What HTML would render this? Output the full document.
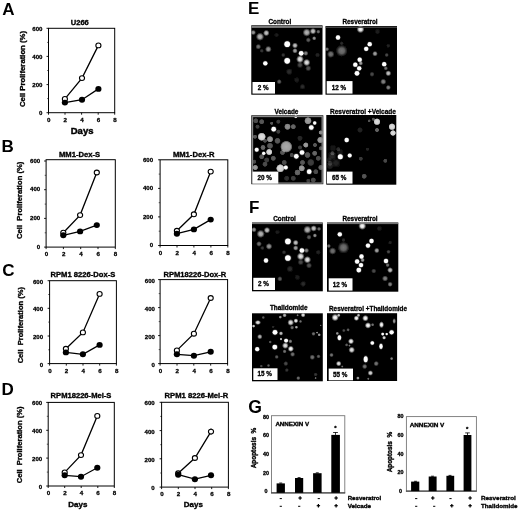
<!DOCTYPE html>
<html lang="en"><head><meta charset="utf-8"><title>Figure</title>
<style>
html,body{margin:0;padding:0;background:#fff;}
body{width:520px;height:510px;overflow:hidden;}
svg{display:block;font-family:"Liberation Sans",sans-serif;}
text{white-space:pre;}
</style></head><body>
<svg width="520" height="510" viewBox="0 0 520 510">
<defs>
<radialGradient id="rg"><stop offset="0" stop-color="#fff" stop-opacity="1"/><stop offset="0.45" stop-color="#fff" stop-opacity="0.85"/><stop offset="0.75" stop-color="#fff" stop-opacity="0.35"/><stop offset="1" stop-color="#fff" stop-opacity="0"/></radialGradient>
<radialGradient id="rgd"><stop offset="0" stop-color="#fff" stop-opacity="1"/><stop offset="0.7" stop-color="#fff" stop-opacity="0.92"/><stop offset="0.9" stop-color="#fff" stop-opacity="0.55"/><stop offset="1" stop-color="#fff" stop-opacity="0"/></radialGradient>
<filter id="b3" x="-150%" y="-150%" width="400%" height="400%"><feGaussianBlur stdDeviation="4"/></filter>
<filter id="b1" x="-50%" y="-50%" width="200%" height="200%"><feGaussianBlur stdDeviation="0.45"/></filter>
<filter id="bm" x="-50%" y="-50%" width="200%" height="200%"><feGaussianBlur stdDeviation="0.65"/></filter>
<filter id="b2" x="-50%" y="-50%" width="200%" height="200%"><feGaussianBlur stdDeviation="0.9"/></filter>
<filter id="soft" x="-5%" y="-5%" width="110%" height="110%"><feGaussianBlur stdDeviation="0.42"/></filter>
</defs>
<rect x="0" y="0" width="520" height="510" fill="#fff"/>
<g filter="url(#soft)">

<text x="2.2" y="14.6" font-size="17" font-weight="bold" text-anchor="start">A</text>
<text x="1.6" y="151.6" font-size="17" font-weight="bold" text-anchor="start">B</text>
<text x="2.2" y="275.5" font-size="17" font-weight="bold" text-anchor="start">C</text>
<text x="1.6" y="395.2" font-size="17" font-weight="bold" text-anchor="start">D</text>
<text x="248.0" y="14.4" font-size="17" font-weight="bold" text-anchor="start">E</text>
<text x="249.0" y="212.8" font-size="17" font-weight="bold" text-anchor="start">F</text>
<text x="248.2" y="412.6" font-size="17.6" font-weight="bold" text-anchor="start">G</text>
<rect x="48.5" y="28.3" width="66.2" height="84.4" fill="#fff" stroke="#000" stroke-width="1"/>
<line x1="46.5" y1="112.7" x2="48.5" y2="112.7" stroke="#000" stroke-width="0.9"/>
<line x1="47.1" y1="98.6" x2="48.5" y2="98.6" stroke="#000" stroke-width="0.6"/>
<line x1="46.5" y1="84.6" x2="48.5" y2="84.6" stroke="#000" stroke-width="0.9"/>
<line x1="47.1" y1="70.5" x2="48.5" y2="70.5" stroke="#000" stroke-width="0.6"/>
<line x1="46.5" y1="56.4" x2="48.5" y2="56.4" stroke="#000" stroke-width="0.9"/>
<line x1="47.1" y1="42.4" x2="48.5" y2="42.4" stroke="#000" stroke-width="0.6"/>
<line x1="46.5" y1="28.3" x2="48.5" y2="28.3" stroke="#000" stroke-width="0.9"/>
<line x1="48.5" y1="112.7" x2="48.5" y2="114.7" stroke="#000" stroke-width="0.9"/>
<line x1="65.0" y1="112.7" x2="65.0" y2="114.7" stroke="#000" stroke-width="0.9"/>
<line x1="81.6" y1="112.7" x2="81.6" y2="114.7" stroke="#000" stroke-width="0.9"/>
<line x1="98.2" y1="112.7" x2="98.2" y2="114.7" stroke="#000" stroke-width="0.9"/>
<line x1="114.7" y1="112.7" x2="114.7" y2="114.7" stroke="#000" stroke-width="0.9"/>
<text x="42.5" y="115.3" font-size="6.1" text-anchor="end" font-weight="bold" stroke="#000" stroke-width="0.27" >0</text>
<text x="42.5" y="87.2" font-size="6.1" text-anchor="end" font-weight="bold" stroke="#000" stroke-width="0.27" >200</text>
<text x="42.5" y="59.0" font-size="6.1" text-anchor="end" font-weight="bold" stroke="#000" stroke-width="0.27" >400</text>
<text x="42.5" y="30.9" font-size="6.1" text-anchor="end" font-weight="bold" stroke="#000" stroke-width="0.27" >600</text>
<text x="48.8" y="121.9" font-size="6.2" text-anchor="middle" font-weight="bold" stroke="#000" stroke-width="0.28" >0</text>
<text x="65.3" y="121.9" font-size="6.2" text-anchor="middle" font-weight="bold" stroke="#000" stroke-width="0.28" >2</text>
<text x="81.9" y="121.9" font-size="6.2" text-anchor="middle" font-weight="bold" stroke="#000" stroke-width="0.28" >4</text>
<text x="98.5" y="121.9" font-size="6.2" text-anchor="middle" font-weight="bold" stroke="#000" stroke-width="0.28" >6</text>
<text x="115.0" y="121.9" font-size="6.2" text-anchor="middle" font-weight="bold" stroke="#000" stroke-width="0.28" >8</text>
<text x="79.8" y="24.8" font-size="7.5" text-anchor="middle" font-weight="bold" textLength="18.0" lengthAdjust="spacingAndGlyphs" stroke="#000" stroke-width="0.34" >U266</text>
<polyline points="64.9,98.9 82.0,78.1 98.4,45.4" fill="none" stroke="#000" stroke-width="1.3"/>
<ellipse cx="64.9" cy="98.9" rx="2.55" ry="2.4" fill="#fff" stroke="#000" stroke-width="1.1"/>
<ellipse cx="82.0" cy="78.1" rx="2.55" ry="2.4" fill="#fff" stroke="#000" stroke-width="1.1"/>
<ellipse cx="98.4" cy="45.4" rx="2.55" ry="2.4" fill="#fff" stroke="#000" stroke-width="1.1"/>
<polyline points="64.9,102.6 82.0,99.7 98.4,88.9" fill="none" stroke="#000" stroke-width="1.3"/>
<ellipse cx="64.9" cy="102.6" rx="3.1" ry="2.95" fill="#000"/>
<ellipse cx="82.0" cy="99.7" rx="3.1" ry="2.95" fill="#000"/>
<ellipse cx="98.4" cy="88.9" rx="3.1" ry="2.95" fill="#000"/>
<text x="25.4" y="69.0" font-size="7.5" text-anchor="middle" font-weight="bold" textLength="76.0" lengthAdjust="spacingAndGlyphs" transform="rotate(-90 25.4 69.0)" stroke="#000" stroke-width="0.34" >Cell Proliferation (%)</text>
<text x="82.1" y="134.4" font-size="9.5" text-anchor="middle" font-weight="bold" stroke="#000" stroke-width="0.43" >Days</text>
<rect x="46.1" y="159.7" width="69.2" height="87.4" fill="#fff" stroke="#000" stroke-width="1"/>
<line x1="44.1" y1="247.1" x2="46.1" y2="247.1" stroke="#000" stroke-width="0.9"/>
<line x1="44.7" y1="232.8" x2="46.1" y2="232.8" stroke="#000" stroke-width="0.6"/>
<line x1="44.1" y1="218.4" x2="46.1" y2="218.4" stroke="#000" stroke-width="0.9"/>
<line x1="44.7" y1="204.1" x2="46.1" y2="204.1" stroke="#000" stroke-width="0.6"/>
<line x1="44.1" y1="189.7" x2="46.1" y2="189.7" stroke="#000" stroke-width="0.9"/>
<line x1="44.7" y1="175.3" x2="46.1" y2="175.3" stroke="#000" stroke-width="0.6"/>
<line x1="44.1" y1="161.0" x2="46.1" y2="161.0" stroke="#000" stroke-width="0.9"/>
<line x1="46.1" y1="247.1" x2="46.1" y2="249.1" stroke="#000" stroke-width="0.9"/>
<line x1="63.4" y1="247.1" x2="63.4" y2="249.1" stroke="#000" stroke-width="0.9"/>
<line x1="80.7" y1="247.1" x2="80.7" y2="249.1" stroke="#000" stroke-width="0.9"/>
<line x1="98.0" y1="247.1" x2="98.0" y2="249.1" stroke="#000" stroke-width="0.9"/>
<line x1="115.3" y1="247.1" x2="115.3" y2="249.1" stroke="#000" stroke-width="0.9"/>
<text x="40.2" y="248.8" font-size="6.1" text-anchor="end" font-weight="bold" stroke="#000" stroke-width="0.27" >0</text>
<text x="40.2" y="220.1" font-size="6.1" text-anchor="end" font-weight="bold" stroke="#000" stroke-width="0.27" >200</text>
<text x="40.2" y="191.4" font-size="6.1" text-anchor="end" font-weight="bold" stroke="#000" stroke-width="0.27" >400</text>
<text x="40.2" y="162.7" font-size="6.1" text-anchor="end" font-weight="bold" stroke="#000" stroke-width="0.27" >600</text>
<text x="46.4" y="256.3" font-size="6.2" text-anchor="middle" font-weight="bold" stroke="#000" stroke-width="0.28" >0</text>
<text x="63.7" y="256.3" font-size="6.2" text-anchor="middle" font-weight="bold" stroke="#000" stroke-width="0.28" >2</text>
<text x="81.0" y="256.3" font-size="6.2" text-anchor="middle" font-weight="bold" stroke="#000" stroke-width="0.28" >4</text>
<text x="98.3" y="256.3" font-size="6.2" text-anchor="middle" font-weight="bold" stroke="#000" stroke-width="0.28" >6</text>
<text x="115.6" y="256.3" font-size="6.2" text-anchor="middle" font-weight="bold" stroke="#000" stroke-width="0.28" >8</text>
<text x="79.6" y="156.8" font-size="7.5" text-anchor="middle" font-weight="bold" textLength="41.2" lengthAdjust="spacingAndGlyphs" stroke="#000" stroke-width="0.34" >MM1-Dex-S</text>
<polyline points="63.3,232.7 80.1,215.1 96.8,172.5" fill="none" stroke="#000" stroke-width="1.3"/>
<ellipse cx="63.3" cy="232.7" rx="2.55" ry="2.4" fill="#fff" stroke="#000" stroke-width="1.1"/>
<ellipse cx="80.1" cy="215.1" rx="2.55" ry="2.4" fill="#fff" stroke="#000" stroke-width="1.1"/>
<ellipse cx="96.8" cy="172.5" rx="2.55" ry="2.4" fill="#fff" stroke="#000" stroke-width="1.1"/>
<polyline points="63.3,235.3 80.1,231.4 96.8,225.1" fill="none" stroke="#000" stroke-width="1.3"/>
<ellipse cx="63.3" cy="235.3" rx="3.1" ry="2.95" fill="#000"/>
<ellipse cx="80.1" cy="231.4" rx="3.1" ry="2.95" fill="#000"/>
<ellipse cx="96.8" cy="225.1" rx="3.1" ry="2.95" fill="#000"/>
<text x="22.3" y="200.3" font-size="7.5" text-anchor="middle" font-weight="bold" textLength="77.2" lengthAdjust="spacingAndGlyphs" transform="rotate(-90 22.3 200.3)" stroke="#000" stroke-width="0.34" >Cell  Proliferation (%)</text>
<rect x="160.1" y="159.8" width="67.7" height="85.7" fill="#fff" stroke="#000" stroke-width="1"/>
<line x1="158.1" y1="245.5" x2="160.1" y2="245.5" stroke="#000" stroke-width="0.9"/>
<line x1="158.7" y1="231.2" x2="160.1" y2="231.2" stroke="#000" stroke-width="0.6"/>
<line x1="158.1" y1="216.9" x2="160.1" y2="216.9" stroke="#000" stroke-width="0.9"/>
<line x1="158.7" y1="202.7" x2="160.1" y2="202.7" stroke="#000" stroke-width="0.6"/>
<line x1="158.1" y1="188.4" x2="160.1" y2="188.4" stroke="#000" stroke-width="0.9"/>
<line x1="158.7" y1="174.1" x2="160.1" y2="174.1" stroke="#000" stroke-width="0.6"/>
<line x1="158.1" y1="159.8" x2="160.1" y2="159.8" stroke="#000" stroke-width="0.9"/>
<line x1="160.1" y1="245.5" x2="160.1" y2="247.5" stroke="#000" stroke-width="0.9"/>
<line x1="177.0" y1="245.5" x2="177.0" y2="247.5" stroke="#000" stroke-width="0.9"/>
<line x1="193.9" y1="245.5" x2="193.9" y2="247.5" stroke="#000" stroke-width="0.9"/>
<line x1="210.9" y1="245.5" x2="210.9" y2="247.5" stroke="#000" stroke-width="0.9"/>
<line x1="227.8" y1="245.5" x2="227.8" y2="247.5" stroke="#000" stroke-width="0.9"/>
<text x="153.1" y="247.4" font-size="6.1" text-anchor="end" font-weight="bold" stroke="#000" stroke-width="0.27" >0</text>
<text x="153.1" y="218.8" font-size="6.1" text-anchor="end" font-weight="bold" stroke="#000" stroke-width="0.27" >200</text>
<text x="153.1" y="190.3" font-size="6.1" text-anchor="end" font-weight="bold" stroke="#000" stroke-width="0.27" >400</text>
<text x="153.1" y="161.7" font-size="6.1" text-anchor="end" font-weight="bold" stroke="#000" stroke-width="0.27" >600</text>
<text x="160.4" y="254.7" font-size="6.2" text-anchor="middle" font-weight="bold" stroke="#000" stroke-width="0.28" >0</text>
<text x="177.3" y="254.7" font-size="6.2" text-anchor="middle" font-weight="bold" stroke="#000" stroke-width="0.28" >2</text>
<text x="194.2" y="254.7" font-size="6.2" text-anchor="middle" font-weight="bold" stroke="#000" stroke-width="0.28" >4</text>
<text x="211.2" y="254.7" font-size="6.2" text-anchor="middle" font-weight="bold" stroke="#000" stroke-width="0.28" >6</text>
<text x="228.1" y="254.7" font-size="6.2" text-anchor="middle" font-weight="bold" stroke="#000" stroke-width="0.28" >8</text>
<text x="193.7" y="156.8" font-size="7.5" text-anchor="middle" font-weight="bold" textLength="41.6" lengthAdjust="spacingAndGlyphs" stroke="#000" stroke-width="0.34" >MM1-Dex-R</text>
<polyline points="176.9,230.8 193.9,214.3 210.7,171.6" fill="none" stroke="#000" stroke-width="1.3"/>
<ellipse cx="176.9" cy="230.8" rx="2.55" ry="2.4" fill="#fff" stroke="#000" stroke-width="1.1"/>
<ellipse cx="193.9" cy="214.3" rx="2.55" ry="2.4" fill="#fff" stroke="#000" stroke-width="1.1"/>
<ellipse cx="210.7" cy="171.6" rx="2.55" ry="2.4" fill="#fff" stroke="#000" stroke-width="1.1"/>
<polyline points="176.9,233.7 193.9,229.4 210.7,219.6" fill="none" stroke="#000" stroke-width="1.3"/>
<ellipse cx="176.9" cy="233.7" rx="3.1" ry="2.95" fill="#000"/>
<ellipse cx="193.9" cy="229.4" rx="3.1" ry="2.95" fill="#000"/>
<ellipse cx="210.7" cy="219.6" rx="3.1" ry="2.95" fill="#000"/>
<rect x="49.6" y="280.7" width="66.8" height="82.9" fill="#fff" stroke="#000" stroke-width="1"/>
<line x1="47.6" y1="363.6" x2="49.6" y2="363.6" stroke="#000" stroke-width="0.9"/>
<line x1="48.2" y1="349.8" x2="49.6" y2="349.8" stroke="#000" stroke-width="0.6"/>
<line x1="47.6" y1="336.0" x2="49.6" y2="336.0" stroke="#000" stroke-width="0.9"/>
<line x1="48.2" y1="322.1" x2="49.6" y2="322.1" stroke="#000" stroke-width="0.6"/>
<line x1="47.6" y1="308.3" x2="49.6" y2="308.3" stroke="#000" stroke-width="0.9"/>
<line x1="48.2" y1="294.5" x2="49.6" y2="294.5" stroke="#000" stroke-width="0.6"/>
<line x1="47.6" y1="280.7" x2="49.6" y2="280.7" stroke="#000" stroke-width="0.9"/>
<line x1="49.6" y1="363.6" x2="49.6" y2="365.6" stroke="#000" stroke-width="0.9"/>
<line x1="66.3" y1="363.6" x2="66.3" y2="365.6" stroke="#000" stroke-width="0.9"/>
<line x1="83.0" y1="363.6" x2="83.0" y2="365.6" stroke="#000" stroke-width="0.9"/>
<line x1="99.7" y1="363.6" x2="99.7" y2="365.6" stroke="#000" stroke-width="0.9"/>
<line x1="116.4" y1="363.6" x2="116.4" y2="365.6" stroke="#000" stroke-width="0.9"/>
<text x="43.1" y="366.5" font-size="6.1" text-anchor="end" font-weight="bold" stroke="#000" stroke-width="0.27" >0</text>
<text x="43.1" y="338.9" font-size="6.1" text-anchor="end" font-weight="bold" stroke="#000" stroke-width="0.27" >200</text>
<text x="43.1" y="311.2" font-size="6.1" text-anchor="end" font-weight="bold" stroke="#000" stroke-width="0.27" >400</text>
<text x="43.1" y="283.6" font-size="6.1" text-anchor="end" font-weight="bold" stroke="#000" stroke-width="0.27" >600</text>
<text x="49.9" y="372.8" font-size="6.2" text-anchor="middle" font-weight="bold" stroke="#000" stroke-width="0.28" >0</text>
<text x="66.6" y="372.8" font-size="6.2" text-anchor="middle" font-weight="bold" stroke="#000" stroke-width="0.28" >2</text>
<text x="83.3" y="372.8" font-size="6.2" text-anchor="middle" font-weight="bold" stroke="#000" stroke-width="0.28" >4</text>
<text x="100.0" y="372.8" font-size="6.2" text-anchor="middle" font-weight="bold" stroke="#000" stroke-width="0.28" >6</text>
<text x="116.7" y="372.8" font-size="6.2" text-anchor="middle" font-weight="bold" stroke="#000" stroke-width="0.28" >8</text>
<text x="82.9" y="276.9" font-size="7.5" text-anchor="middle" font-weight="bold" textLength="64.7" lengthAdjust="spacingAndGlyphs" stroke="#000" stroke-width="0.34" >RPM1 8226-Dox-S</text>
<polyline points="65.9,348.8 82.9,332.4 99.6,293.9" fill="none" stroke="#000" stroke-width="1.3"/>
<ellipse cx="65.9" cy="348.8" rx="2.55" ry="2.4" fill="#fff" stroke="#000" stroke-width="1.1"/>
<ellipse cx="82.9" cy="332.4" rx="2.55" ry="2.4" fill="#fff" stroke="#000" stroke-width="1.1"/>
<ellipse cx="99.6" cy="293.9" rx="2.55" ry="2.4" fill="#fff" stroke="#000" stroke-width="1.1"/>
<polyline points="65.9,352.4 82.9,354.3 99.6,344.9" fill="none" stroke="#000" stroke-width="1.3"/>
<ellipse cx="65.9" cy="352.4" rx="3.1" ry="2.95" fill="#000"/>
<ellipse cx="82.9" cy="354.3" rx="3.1" ry="2.95" fill="#000"/>
<ellipse cx="99.6" cy="344.9" rx="3.1" ry="2.95" fill="#000"/>
<text x="22.7" y="325.2" font-size="7.5" text-anchor="middle" font-weight="bold" textLength="76.3" lengthAdjust="spacingAndGlyphs" transform="rotate(-90 22.7 325.2)" stroke="#000" stroke-width="0.34" >Cell  Proliferation (%)</text>
<rect x="160.1" y="279.6" width="67.5" height="84.0" fill="#fff" stroke="#000" stroke-width="1"/>
<line x1="158.1" y1="363.6" x2="160.1" y2="363.6" stroke="#000" stroke-width="0.9"/>
<line x1="158.7" y1="349.6" x2="160.1" y2="349.6" stroke="#000" stroke-width="0.6"/>
<line x1="158.1" y1="335.6" x2="160.1" y2="335.6" stroke="#000" stroke-width="0.9"/>
<line x1="158.7" y1="321.6" x2="160.1" y2="321.6" stroke="#000" stroke-width="0.6"/>
<line x1="158.1" y1="307.6" x2="160.1" y2="307.6" stroke="#000" stroke-width="0.9"/>
<line x1="158.7" y1="293.6" x2="160.1" y2="293.6" stroke="#000" stroke-width="0.6"/>
<line x1="158.1" y1="279.6" x2="160.1" y2="279.6" stroke="#000" stroke-width="0.9"/>
<line x1="160.1" y1="363.6" x2="160.1" y2="365.6" stroke="#000" stroke-width="0.9"/>
<line x1="177.0" y1="363.6" x2="177.0" y2="365.6" stroke="#000" stroke-width="0.9"/>
<line x1="193.8" y1="363.6" x2="193.8" y2="365.6" stroke="#000" stroke-width="0.9"/>
<line x1="210.7" y1="363.6" x2="210.7" y2="365.6" stroke="#000" stroke-width="0.9"/>
<line x1="227.6" y1="363.6" x2="227.6" y2="365.6" stroke="#000" stroke-width="0.9"/>
<text x="155.0" y="366.6" font-size="6.1" text-anchor="end" font-weight="bold" stroke="#000" stroke-width="0.27" >0</text>
<text x="155.0" y="338.6" font-size="6.1" text-anchor="end" font-weight="bold" stroke="#000" stroke-width="0.27" >200</text>
<text x="155.0" y="310.6" font-size="6.1" text-anchor="end" font-weight="bold" stroke="#000" stroke-width="0.27" >400</text>
<text x="155.0" y="282.6" font-size="6.1" text-anchor="end" font-weight="bold" stroke="#000" stroke-width="0.27" >600</text>
<text x="160.4" y="372.8" font-size="6.2" text-anchor="middle" font-weight="bold" stroke="#000" stroke-width="0.28" >0</text>
<text x="177.3" y="372.8" font-size="6.2" text-anchor="middle" font-weight="bold" stroke="#000" stroke-width="0.28" >2</text>
<text x="194.2" y="372.8" font-size="6.2" text-anchor="middle" font-weight="bold" stroke="#000" stroke-width="0.28" >4</text>
<text x="211.0" y="372.8" font-size="6.2" text-anchor="middle" font-weight="bold" stroke="#000" stroke-width="0.28" >6</text>
<text x="227.9" y="372.8" font-size="6.2" text-anchor="middle" font-weight="bold" stroke="#000" stroke-width="0.28" >8</text>
<text x="194.9" y="276.5" font-size="7.5" text-anchor="middle" font-weight="bold" textLength="62.8" lengthAdjust="spacingAndGlyphs" stroke="#000" stroke-width="0.34" >RPM18226-Dox-R</text>
<polyline points="176.9,350.4 193.9,333.7 210.7,298.0" fill="none" stroke="#000" stroke-width="1.3"/>
<ellipse cx="176.9" cy="350.4" rx="2.55" ry="2.4" fill="#fff" stroke="#000" stroke-width="1.1"/>
<ellipse cx="193.9" cy="333.7" rx="2.55" ry="2.4" fill="#fff" stroke="#000" stroke-width="1.1"/>
<ellipse cx="210.7" cy="298.0" rx="2.55" ry="2.4" fill="#fff" stroke="#000" stroke-width="1.1"/>
<polyline points="176.9,354.3 193.9,355.7 210.7,351.8" fill="none" stroke="#000" stroke-width="1.3"/>
<ellipse cx="176.9" cy="354.3" rx="3.1" ry="2.95" fill="#000"/>
<ellipse cx="193.9" cy="355.7" rx="3.1" ry="2.95" fill="#000"/>
<ellipse cx="210.7" cy="351.8" rx="3.1" ry="2.95" fill="#000"/>
<rect x="48.2" y="402.4" width="66.1" height="83.6" fill="#fff" stroke="#000" stroke-width="1"/>
<line x1="46.2" y1="486.0" x2="48.2" y2="486.0" stroke="#000" stroke-width="0.9"/>
<line x1="46.8" y1="472.1" x2="48.2" y2="472.1" stroke="#000" stroke-width="0.6"/>
<line x1="46.2" y1="458.1" x2="48.2" y2="458.1" stroke="#000" stroke-width="0.9"/>
<line x1="46.8" y1="444.2" x2="48.2" y2="444.2" stroke="#000" stroke-width="0.6"/>
<line x1="46.2" y1="430.3" x2="48.2" y2="430.3" stroke="#000" stroke-width="0.9"/>
<line x1="46.8" y1="416.3" x2="48.2" y2="416.3" stroke="#000" stroke-width="0.6"/>
<line x1="46.2" y1="402.4" x2="48.2" y2="402.4" stroke="#000" stroke-width="0.9"/>
<line x1="48.2" y1="486.0" x2="48.2" y2="488.0" stroke="#000" stroke-width="0.9"/>
<line x1="64.7" y1="486.0" x2="64.7" y2="488.0" stroke="#000" stroke-width="0.9"/>
<line x1="81.2" y1="486.0" x2="81.2" y2="488.0" stroke="#000" stroke-width="0.9"/>
<line x1="97.8" y1="486.0" x2="97.8" y2="488.0" stroke="#000" stroke-width="0.9"/>
<line x1="114.3" y1="486.0" x2="114.3" y2="488.0" stroke="#000" stroke-width="0.9"/>
<text x="42.2" y="489.0" font-size="6.1" text-anchor="end" font-weight="bold" stroke="#000" stroke-width="0.27" >0</text>
<text x="42.2" y="461.1" font-size="6.1" text-anchor="end" font-weight="bold" stroke="#000" stroke-width="0.27" >200</text>
<text x="42.2" y="433.3" font-size="6.1" text-anchor="end" font-weight="bold" stroke="#000" stroke-width="0.27" >400</text>
<text x="42.2" y="405.4" font-size="6.1" text-anchor="end" font-weight="bold" stroke="#000" stroke-width="0.27" >600</text>
<text x="48.5" y="495.2" font-size="6.2" text-anchor="middle" font-weight="bold" stroke="#000" stroke-width="0.28" >0</text>
<text x="65.0" y="495.2" font-size="6.2" text-anchor="middle" font-weight="bold" stroke="#000" stroke-width="0.28" >2</text>
<text x="81.5" y="495.2" font-size="6.2" text-anchor="middle" font-weight="bold" stroke="#000" stroke-width="0.28" >4</text>
<text x="98.1" y="495.2" font-size="6.2" text-anchor="middle" font-weight="bold" stroke="#000" stroke-width="0.28" >6</text>
<text x="114.6" y="495.2" font-size="6.2" text-anchor="middle" font-weight="bold" stroke="#000" stroke-width="0.28" >8</text>
<text x="81.0" y="397.5" font-size="7.5" text-anchor="middle" font-weight="bold" textLength="60.8" lengthAdjust="spacingAndGlyphs" stroke="#000" stroke-width="0.34" >RPM18226-Mel-S</text>
<polyline points="64.7,472.4 81.0,455.1 97.3,415.9" fill="none" stroke="#000" stroke-width="1.3"/>
<ellipse cx="64.7" cy="472.4" rx="2.55" ry="2.4" fill="#fff" stroke="#000" stroke-width="1.1"/>
<ellipse cx="81.0" cy="455.1" rx="2.55" ry="2.4" fill="#fff" stroke="#000" stroke-width="1.1"/>
<ellipse cx="97.3" cy="415.9" rx="2.55" ry="2.4" fill="#fff" stroke="#000" stroke-width="1.1"/>
<polyline points="64.7,475.3 81.0,476.7 97.3,467.8" fill="none" stroke="#000" stroke-width="1.3"/>
<ellipse cx="64.7" cy="475.3" rx="3.1" ry="2.95" fill="#000"/>
<ellipse cx="81.0" cy="476.7" rx="3.1" ry="2.95" fill="#000"/>
<ellipse cx="97.3" cy="467.8" rx="3.1" ry="2.95" fill="#000"/>
<text x="22.3" y="444.9" font-size="7.5" text-anchor="middle" font-weight="bold" textLength="76.9" lengthAdjust="spacingAndGlyphs" transform="rotate(-90 22.3 444.9)" stroke="#000" stroke-width="0.34" >Cell  Proliferation (%)</text>
<rect x="161.6" y="402.3" width="66.8" height="84.8" fill="#fff" stroke="#000" stroke-width="1"/>
<line x1="159.6" y1="487.1" x2="161.6" y2="487.1" stroke="#000" stroke-width="0.9"/>
<line x1="160.2" y1="473.0" x2="161.6" y2="473.0" stroke="#000" stroke-width="0.6"/>
<line x1="159.6" y1="458.8" x2="161.6" y2="458.8" stroke="#000" stroke-width="0.9"/>
<line x1="160.2" y1="444.7" x2="161.6" y2="444.7" stroke="#000" stroke-width="0.6"/>
<line x1="159.6" y1="430.6" x2="161.6" y2="430.6" stroke="#000" stroke-width="0.9"/>
<line x1="160.2" y1="416.4" x2="161.6" y2="416.4" stroke="#000" stroke-width="0.6"/>
<line x1="159.6" y1="402.3" x2="161.6" y2="402.3" stroke="#000" stroke-width="0.9"/>
<line x1="161.6" y1="487.1" x2="161.6" y2="489.1" stroke="#000" stroke-width="0.9"/>
<line x1="178.3" y1="487.1" x2="178.3" y2="489.1" stroke="#000" stroke-width="0.9"/>
<line x1="195.0" y1="487.1" x2="195.0" y2="489.1" stroke="#000" stroke-width="0.9"/>
<line x1="211.7" y1="487.1" x2="211.7" y2="489.1" stroke="#000" stroke-width="0.9"/>
<line x1="228.4" y1="487.1" x2="228.4" y2="489.1" stroke="#000" stroke-width="0.9"/>
<text x="154.7" y="490.1" font-size="6.1" text-anchor="end" font-weight="bold" stroke="#000" stroke-width="0.27" >0</text>
<text x="154.7" y="461.8" font-size="6.1" text-anchor="end" font-weight="bold" stroke="#000" stroke-width="0.27" >200</text>
<text x="154.7" y="433.6" font-size="6.1" text-anchor="end" font-weight="bold" stroke="#000" stroke-width="0.27" >400</text>
<text x="154.7" y="405.3" font-size="6.1" text-anchor="end" font-weight="bold" stroke="#000" stroke-width="0.27" >600</text>
<text x="161.9" y="496.3" font-size="6.2" text-anchor="middle" font-weight="bold" stroke="#000" stroke-width="0.28" >0</text>
<text x="178.6" y="496.3" font-size="6.2" text-anchor="middle" font-weight="bold" stroke="#000" stroke-width="0.28" >2</text>
<text x="195.3" y="496.3" font-size="6.2" text-anchor="middle" font-weight="bold" stroke="#000" stroke-width="0.28" >4</text>
<text x="212.0" y="496.3" font-size="6.2" text-anchor="middle" font-weight="bold" stroke="#000" stroke-width="0.28" >6</text>
<text x="228.7" y="496.3" font-size="6.2" text-anchor="middle" font-weight="bold" stroke="#000" stroke-width="0.28" >8</text>
<text x="196.4" y="397.8" font-size="7.5" text-anchor="middle" font-weight="bold" textLength="63.7" lengthAdjust="spacingAndGlyphs" stroke="#000" stroke-width="0.34" >RPM1 8226-Mel-R</text>
<polyline points="178.2,473.3 194.9,458.0 211.0,431.6" fill="none" stroke="#000" stroke-width="1.3"/>
<line x1="211.0" y1="428.3" x2="211.0" y2="434.9" stroke="#000" stroke-width="0.8"/>
<ellipse cx="178.2" cy="473.3" rx="2.55" ry="2.4" fill="#fff" stroke="#000" stroke-width="1.1"/>
<ellipse cx="194.9" cy="458.0" rx="2.55" ry="2.4" fill="#fff" stroke="#000" stroke-width="1.1"/>
<ellipse cx="211.0" cy="431.6" rx="2.55" ry="2.4" fill="#fff" stroke="#000" stroke-width="1.1"/>
<polyline points="178.2,474.7 194.9,479.2 211.0,475.3" fill="none" stroke="#000" stroke-width="1.3"/>
<ellipse cx="178.2" cy="474.7" rx="3.1" ry="2.95" fill="#000"/>
<ellipse cx="194.9" cy="479.2" rx="3.1" ry="2.95" fill="#000"/>
<ellipse cx="211.0" cy="475.3" rx="3.1" ry="2.95" fill="#000"/>
<text x="77.8" y="506.7" font-size="8" text-anchor="middle" font-weight="bold" stroke="#000" stroke-width="0.36" >Days</text>
<text x="193.3" y="506.7" font-size="8" text-anchor="middle" font-weight="bold" stroke="#000" stroke-width="0.36" >Days</text>
</g>
<g filter="url(#soft)">
<clipPath id="cp1"><rect x="251.3" y="25.3" width="71.2" height="69.4"/></clipPath>
<rect x="251.3" y="25.3" width="71.2" height="69.4" fill="#000"/>
<g clip-path="url(#cp1)">

<g filter="url(#b1)">
<ellipse cx="287.2" cy="44.2" rx="4.11" ry="4.11" fill="url(#rg)" fill-opacity="0.50"/>
<ellipse cx="265.3" cy="63.3" rx="3.14" ry="3.14" fill="url(#rg)" fill-opacity="0.50"/>
<ellipse cx="287.2" cy="60.8" rx="4.11" ry="4.11" fill="url(#rg)" fill-opacity="0.50"/>
<ellipse cx="301.2" cy="53.3" rx="3.38" ry="3.38" fill="url(#rg)" fill-opacity="0.50"/>
<ellipse cx="268.3" cy="49.2" rx="3.38" ry="3.38" fill="url(#rg)" fill-opacity="0.60"/>
<ellipse cx="258.3" cy="46.7" rx="2.92" ry="2.92" fill="url(#rg)" fill-opacity="0.45"/>
<ellipse cx="253.3" cy="32.5" rx="2.70" ry="2.70" fill="url(#rg)" fill-opacity="0.60"/>
<ellipse cx="314.2" cy="38.3" rx="2.25" ry="2.25" fill="url(#rg)" fill-opacity="0.60"/>
<ellipse cx="308.3" cy="40.0" rx="2.70" ry="2.70" fill="url(#rg)" fill-opacity="0.38"/>
<ellipse cx="305.8" cy="53.3" rx="2.70" ry="2.70" fill="url(#rg)" fill-opacity="0.52"/>
<ellipse cx="279.2" cy="81.7" rx="2.70" ry="2.70" fill="url(#rg)" fill-opacity="0.38"/>
<ellipse cx="302.5" cy="86.7" rx="3.15" ry="3.15" fill="url(#rg)" fill-opacity="0.18"/>
<ellipse cx="289.2" cy="71.7" rx="3.60" ry="3.60" fill="url(#rg)" fill-opacity="0.18"/>
<ellipse cx="308.3" cy="68.3" rx="3.15" ry="3.15" fill="url(#rg)" fill-opacity="0.33"/>
<ellipse cx="318.3" cy="31.7" rx="2.25" ry="2.25" fill="url(#rg)" fill-opacity="0.45"/>
<ellipse cx="300.0" cy="65.0" rx="3.15" ry="3.15" fill="url(#rg)" fill-opacity="0.30"/>
<ellipse cx="283.3" cy="55.0" rx="2.25" ry="2.25" fill="url(#rg)" fill-opacity="0.22"/>
<ellipse cx="261.7" cy="50.8" rx="2.25" ry="2.25" fill="url(#rg)" fill-opacity="0.22"/>
<ellipse cx="317.5" cy="55.0" rx="2.70" ry="2.70" fill="url(#rg)" fill-opacity="0.15"/>
<ellipse cx="276.7" cy="35.0" rx="2.70" ry="2.70" fill="url(#rg)" fill-opacity="0.12"/>
<ellipse cx="296.7" cy="80.0" rx="3.15" ry="3.15" fill="url(#rg)" fill-opacity="0.12"/>
<ellipse cx="300.0" cy="59.2" rx="3.97" ry="3.97" fill="url(#rg)" fill-opacity="0.91"/>
<ellipse cx="306.7" cy="62.5" rx="3.73" ry="3.73" fill="url(#rg)" fill-opacity="0.91"/>
<ellipse cx="295.0" cy="45.5" rx="3.03" ry="3.03" fill="url(#rg)" fill-opacity="0.78"/>
<ellipse cx="260.0" cy="36.7" rx="4.20" ry="4.20" fill="url(#rg)" fill-opacity="0.72"/>
<ellipse cx="266.3" cy="33.0" rx="3.27" ry="3.27" fill="url(#rg)" fill-opacity="0.78"/>
<ellipse cx="306.7" cy="32.5" rx="4.20" ry="4.20" fill="url(#rg)" fill-opacity="0.72"/>
<ellipse cx="313.0" cy="31.2" rx="3.27" ry="3.27" fill="url(#rg)" fill-opacity="0.78"/>
<ellipse cx="295.0" cy="50.8" rx="2.80" ry="2.80" fill="url(#rg)" fill-opacity="0.65"/>
<ellipse cx="287.2" cy="44.2" rx="2.83" ry="2.83" fill="#fff" fill-opacity="1.00"/>
<ellipse cx="265.3" cy="63.3" rx="2.17" ry="2.17" fill="#fff" fill-opacity="1.00"/>
<ellipse cx="287.2" cy="60.8" rx="2.83" ry="2.83" fill="#fff" fill-opacity="1.00"/>
<ellipse cx="301.2" cy="53.3" rx="2.33" ry="2.33" fill="#fff" fill-opacity="1.00"/>
</g>
<rect x="251.3" y="25.9" width="71.2" height="2.0" fill="#808080"/>
</g>
<rect x="252.5" y="82.0" width="22.5" height="11.6" fill="#fff"/>
<text x="263.1" y="90.0" font-size="6.3" font-weight="bold" text-anchor="middle" stroke="#000" stroke-width="0.3">2 %</text>
<text x="279.8" y="23.8" font-size="6.4" font-weight="bold" text-anchor="middle" stroke="#000" stroke-width="0.3">Control</text>
<clipPath id="cp2"><rect x="325.5" y="26.0" width="71.5" height="68.7"/></clipPath>
<rect x="325.5" y="26.0" width="71.5" height="68.7" fill="#000"/>
<g clip-path="url(#cp2)">

<g filter="url(#b1)">
<ellipse cx="338.0" cy="37.5" rx="3.14" ry="3.14" fill="url(#rg)" fill-opacity="0.50"/>
<ellipse cx="369.7" cy="44.2" rx="3.14" ry="3.14" fill="url(#rg)" fill-opacity="0.50"/>
<ellipse cx="366.2" cy="48.8" rx="3.14" ry="3.14" fill="url(#rg)" fill-opacity="0.50"/>
<ellipse cx="341.7" cy="50.8" rx="6.08" ry="6.08" fill="url(#rg)" fill-opacity="0.45"/>
<ellipse cx="330.8" cy="54.2" rx="3.83" ry="3.83" fill="url(#rg)" fill-opacity="0.45"/>
<ellipse cx="359.7" cy="59.7" rx="3.14" ry="3.14" fill="url(#rg)" fill-opacity="0.50"/>
<ellipse cx="355.3" cy="64.7" rx="3.14" ry="3.14" fill="url(#rg)" fill-opacity="0.50"/>
<ellipse cx="359.2" cy="68.3" rx="3.14" ry="3.14" fill="url(#rg)" fill-opacity="0.50"/>
<ellipse cx="357.0" cy="73.3" rx="3.38" ry="3.38" fill="url(#rg)" fill-opacity="0.50"/>
<ellipse cx="384.2" cy="64.2" rx="3.14" ry="3.14" fill="url(#rg)" fill-opacity="0.50"/>
<ellipse cx="383.3" cy="81.7" rx="3.15" ry="3.15" fill="url(#rg)" fill-opacity="0.52"/>
<ellipse cx="388.3" cy="87.5" rx="2.70" ry="2.70" fill="url(#rg)" fill-opacity="0.52"/>
<ellipse cx="372.0" cy="74.2" rx="2.70" ry="2.70" fill="url(#rg)" fill-opacity="0.30"/>
<ellipse cx="386.7" cy="55.0" rx="2.25" ry="2.25" fill="url(#rg)" fill-opacity="0.30"/>
<ellipse cx="327.0" cy="49.2" rx="2.25" ry="2.25" fill="url(#rg)" fill-opacity="0.45"/>
<ellipse cx="385.8" cy="68.3" rx="2.25" ry="2.25" fill="url(#rg)" fill-opacity="0.45"/>
<ellipse cx="377.5" cy="31.7" rx="3.15" ry="3.15" fill="url(#rg)" fill-opacity="0.12"/>
<ellipse cx="388.3" cy="45.8" rx="2.25" ry="2.25" fill="url(#rg)" fill-opacity="0.15"/>
<ellipse cx="341.7" cy="43.3" rx="2.25" ry="2.25" fill="url(#rg)" fill-opacity="0.18"/>
<ellipse cx="360.5" cy="29.2" rx="3.97" ry="3.97" fill="url(#rg)" fill-opacity="1.00"/>
<ellipse cx="388.3" cy="73.3" rx="3.03" ry="3.03" fill="url(#rg)" fill-opacity="0.78"/>
<ellipse cx="375.0" cy="53.7" rx="2.80" ry="2.80" fill="url(#rg)" fill-opacity="0.65"/>
<ellipse cx="360.8" cy="63.3" rx="2.33" ry="2.33" fill="url(#rg)" fill-opacity="0.65"/>
<ellipse cx="338.0" cy="37.5" rx="2.17" ry="2.17" fill="#fff" fill-opacity="1.00"/>
<ellipse cx="369.7" cy="44.2" rx="2.17" ry="2.17" fill="#fff" fill-opacity="1.00"/>
<ellipse cx="366.2" cy="48.8" rx="2.17" ry="2.17" fill="#fff" fill-opacity="1.00"/>
<ellipse cx="359.7" cy="59.7" rx="2.17" ry="2.17" fill="#fff" fill-opacity="1.00"/>
<ellipse cx="355.3" cy="64.7" rx="2.17" ry="2.17" fill="#fff" fill-opacity="1.00"/>
<ellipse cx="359.2" cy="68.3" rx="2.17" ry="2.17" fill="#fff" fill-opacity="1.00"/>
<ellipse cx="357.0" cy="73.3" rx="2.33" ry="2.33" fill="#fff" fill-opacity="1.00"/>
<ellipse cx="384.2" cy="64.2" rx="2.17" ry="2.17" fill="#fff" fill-opacity="1.00"/>
</g>
<rect x="325.5" y="26.6" width="71.5" height="1.3" fill="#484848"/>
</g>
<rect x="326.7" y="81.1" width="25.8" height="12.5" fill="#fff"/>
<text x="339.0" y="89.5" font-size="6.3" font-weight="bold" text-anchor="middle" stroke="#000" stroke-width="0.3">12 %</text>
<text x="360.0" y="23.8" font-size="6.4" font-weight="bold" text-anchor="middle" stroke="#000" stroke-width="0.3">Resveratrol</text>
<clipPath id="cp3"><rect x="251.3" y="115.3" width="72.0" height="68.9"/></clipPath>
<rect x="251.3" y="115.3" width="72.0" height="68.9" fill="#050505"/>
<g clip-path="url(#cp3)">

<g filter="url(#b1)">
<ellipse cx="273.7" cy="129.2" rx="3.38" ry="3.38" fill="url(#rg)" fill-opacity="0.50"/>
<ellipse cx="302.0" cy="152.5" rx="3.38" ry="3.38" fill="url(#rg)" fill-opacity="0.50"/>
<ellipse cx="296.3" cy="156.3" rx="3.38" ry="3.38" fill="url(#rg)" fill-opacity="0.50"/>
<ellipse cx="311.3" cy="127.5" rx="3.38" ry="3.38" fill="url(#rg)" fill-opacity="0.50"/>
<ellipse cx="314.7" cy="123.0" rx="2.42" ry="2.42" fill="url(#rg)" fill-opacity="0.50"/>
<ellipse cx="285.8" cy="167.5" rx="2.90" ry="2.90" fill="url(#rg)" fill-opacity="0.50"/>
<ellipse cx="309.2" cy="171.7" rx="3.38" ry="3.38" fill="url(#rg)" fill-opacity="0.50"/>
<ellipse cx="256.7" cy="149.7" rx="2.90" ry="2.90" fill="url(#rg)" fill-opacity="0.50"/>
<ellipse cx="263.7" cy="153.3" rx="2.42" ry="2.42" fill="url(#rg)" fill-opacity="0.50"/>
<ellipse cx="293.3" cy="126.7" rx="2.70" ry="2.70" fill="url(#rgd)" fill-opacity="0.40"/>
<ellipse cx="277.5" cy="140.8" rx="3.15" ry="3.15" fill="url(#rgd)" fill-opacity="0.34"/>
<ellipse cx="270.0" cy="145.8" rx="3.15" ry="3.15" fill="url(#rgd)" fill-opacity="0.34"/>
<ellipse cx="263.0" cy="147.5" rx="2.70" ry="2.70" fill="url(#rgd)" fill-opacity="0.40"/>
<ellipse cx="297.5" cy="172.5" rx="3.15" ry="3.15" fill="url(#rgd)" fill-opacity="0.40"/>
<ellipse cx="314.7" cy="153.3" rx="2.70" ry="2.70" fill="url(#rgd)" fill-opacity="0.40"/>
<ellipse cx="307.5" cy="155.0" rx="3.15" ry="3.15" fill="url(#rgd)" fill-opacity="0.34"/>
<ellipse cx="320.8" cy="167.5" rx="2.70" ry="2.70" fill="url(#rgd)" fill-opacity="0.40"/>
<ellipse cx="261.7" cy="121.7" rx="2.70" ry="2.70" fill="url(#rgd)" fill-opacity="0.34"/>
<ellipse cx="255.8" cy="120.8" rx="2.70" ry="2.70" fill="url(#rgd)" fill-opacity="0.29"/>
<ellipse cx="273.3" cy="158.3" rx="2.70" ry="2.70" fill="url(#rgd)" fill-opacity="0.34"/>
<ellipse cx="261.7" cy="156.7" rx="2.70" ry="2.70" fill="url(#rgd)" fill-opacity="0.34"/>
<ellipse cx="302.5" cy="162.5" rx="2.70" ry="2.70" fill="url(#rgd)" fill-opacity="0.34"/>
<ellipse cx="318.3" cy="158.3" rx="2.70" ry="2.70" fill="url(#rgd)" fill-opacity="0.29"/>
<ellipse cx="282.5" cy="152.5" rx="2.70" ry="2.70" fill="url(#rgd)" fill-opacity="0.34"/>
<ellipse cx="295.8" cy="116.7" rx="1.93" ry="1.93" fill="url(#rg)" fill-opacity="0.50"/>
<ellipse cx="313.3" cy="180.0" rx="2.70" ry="2.70" fill="url(#rgd)" fill-opacity="0.29"/>
<ellipse cx="308.3" cy="180.8" rx="2.25" ry="2.25" fill="url(#rgd)" fill-opacity="0.23"/>
<ellipse cx="255.0" cy="136.7" rx="2.25" ry="2.25" fill="url(#rgd)" fill-opacity="0.34"/>
<ellipse cx="266.7" cy="160.0" rx="2.70" ry="2.70" fill="url(#rgd)" fill-opacity="0.23"/>
<ellipse cx="254.2" cy="161.7" rx="2.25" ry="2.25" fill="url(#rgd)" fill-opacity="0.29"/>
<ellipse cx="293.3" cy="178.3" rx="2.70" ry="2.70" fill="url(#rgd)" fill-opacity="0.23"/>
<ellipse cx="286.7" cy="178.3" rx="2.70" ry="2.70" fill="url(#rgd)" fill-opacity="0.17"/>
<ellipse cx="315.0" cy="145.0" rx="2.25" ry="2.25" fill="url(#rgd)" fill-opacity="0.34"/>
<ellipse cx="300.0" cy="138.3" rx="2.70" ry="2.70" fill="url(#rgd)" fill-opacity="0.14"/>
<ellipse cx="278.3" cy="121.7" rx="2.25" ry="2.25" fill="url(#rgd)" fill-opacity="0.23"/>
<ellipse cx="271.7" cy="123.3" rx="1.80" ry="1.80" fill="url(#rgd)" fill-opacity="0.34"/>
<ellipse cx="265.0" cy="164.2" rx="2.70" ry="2.70" fill="url(#rgd)" fill-opacity="0.29"/>
<ellipse cx="284.2" cy="162.5" rx="2.70" ry="2.70" fill="url(#rgd)" fill-opacity="0.29"/>
<ellipse cx="310.8" cy="162.5" rx="3.60" ry="3.60" fill="url(#rgd)" fill-opacity="0.23"/>
<ellipse cx="315.8" cy="171.7" rx="2.70" ry="2.70" fill="url(#rgd)" fill-opacity="0.29"/>
<ellipse cx="291.7" cy="155.0" rx="2.25" ry="2.25" fill="url(#rgd)" fill-opacity="0.29"/>
<ellipse cx="265.0" cy="140.8" rx="2.25" ry="2.25" fill="url(#rgd)" fill-opacity="0.29"/>
<ellipse cx="257.5" cy="126.7" rx="2.25" ry="2.25" fill="url(#rgd)" fill-opacity="0.23"/>
<ellipse cx="300.0" cy="147.5" rx="2.25" ry="2.25" fill="url(#rgd)" fill-opacity="0.23"/>
<ellipse cx="320.8" cy="148.3" rx="2.25" ry="2.25" fill="url(#rgd)" fill-opacity="0.34"/>
<ellipse cx="278.3" cy="131.7" rx="2.25" ry="2.25" fill="url(#rgd)" fill-opacity="0.23"/>
<ellipse cx="261.7" cy="136.7" rx="4.20" ry="4.20" fill="url(#rgd)" fill-opacity="0.88"/>
<ellipse cx="286.3" cy="146.7" rx="6.07" ry="6.07" fill="url(#rgd)" fill-opacity="0.66"/>
<ellipse cx="308.0" cy="120.8" rx="3.73" ry="3.73" fill="url(#rgd)" fill-opacity="0.61"/>
<ellipse cx="280.3" cy="168.3" rx="4.20" ry="4.20" fill="url(#rgd)" fill-opacity="0.88"/>
<ellipse cx="269.2" cy="152.0" rx="3.27" ry="3.27" fill="url(#rgd)" fill-opacity="0.88"/>
<ellipse cx="270.0" cy="139.2" rx="3.27" ry="3.27" fill="url(#rgd)" fill-opacity="0.61"/>
<ellipse cx="287.5" cy="126.7" rx="3.27" ry="3.27" fill="url(#rgd)" fill-opacity="0.55"/>
<ellipse cx="320.3" cy="140.0" rx="3.27" ry="3.27" fill="url(#rgd)" fill-opacity="0.61"/>
<ellipse cx="320.8" cy="132.5" rx="2.33" ry="2.33" fill="url(#rgd)" fill-opacity="0.55"/>
<ellipse cx="305.8" cy="145.0" rx="2.80" ry="2.80" fill="url(#rgd)" fill-opacity="0.61"/>
<ellipse cx="301.7" cy="168.3" rx="3.27" ry="3.27" fill="url(#rgd)" fill-opacity="0.61"/>
<ellipse cx="255.3" cy="167.5" rx="2.80" ry="2.80" fill="url(#rgd)" fill-opacity="0.61"/>
<ellipse cx="273.7" cy="129.2" rx="2.33" ry="2.33" fill="#fff" fill-opacity="1.00"/>
<ellipse cx="302.0" cy="152.5" rx="2.33" ry="2.33" fill="#fff" fill-opacity="1.00"/>
<ellipse cx="296.3" cy="156.3" rx="2.33" ry="2.33" fill="#fff" fill-opacity="1.00"/>
<ellipse cx="311.3" cy="127.5" rx="2.33" ry="2.33" fill="#fff" fill-opacity="0.99"/>
<ellipse cx="314.7" cy="123.0" rx="1.67" ry="1.67" fill="#fff" fill-opacity="0.99"/>
<ellipse cx="285.8" cy="167.5" rx="2.00" ry="2.00" fill="#fff" fill-opacity="1.00"/>
<ellipse cx="309.2" cy="171.7" rx="2.33" ry="2.33" fill="#fff" fill-opacity="1.00"/>
<ellipse cx="256.7" cy="149.7" rx="2.00" ry="2.00" fill="#fff" fill-opacity="1.00"/>
<ellipse cx="263.7" cy="153.3" rx="1.67" ry="1.67" fill="#fff" fill-opacity="1.00"/>
<ellipse cx="295.8" cy="116.7" rx="1.33" ry="1.33" fill="#fff" fill-opacity="0.99"/>
</g>
</g>
<rect x="252.5" y="116.5" width="69.7" height="66.6" fill="none" stroke="#8a8a8a" stroke-width="1.3"/>
<rect x="252.5" y="171.6" width="25.8" height="12.0" fill="#fff"/>
<text x="264.8" y="179.8" font-size="6.3" font-weight="bold" text-anchor="middle" stroke="#000" stroke-width="0.3">20 %</text>
<text x="286.5" y="114.0" font-size="6.4" font-weight="bold" text-anchor="middle" stroke="#000" stroke-width="0.3">Velcade</text>
<clipPath id="cp4"><rect x="326.3" y="115.0" width="70.0" height="69.7"/></clipPath>
<rect x="326.3" y="115.0" width="70.0" height="69.7" fill="#000"/>
<g clip-path="url(#cp4)">
<ellipse cx="332" cy="156" rx="5" ry="5" fill="url(#rg)" fill-opacity="0.16"/><ellipse cx="336" cy="163" rx="5" ry="5" fill="url(#rg)" fill-opacity="0.14"/><ellipse cx="330" cy="166" rx="4" ry="4" fill="url(#rg)" fill-opacity="0.14"/><ellipse cx="340" cy="152" rx="4" ry="4" fill="url(#rg)" fill-opacity="0.1"/><ellipse cx="333" cy="148" rx="4" ry="4" fill="url(#rg)" fill-opacity="0.1"/><ellipse cx="329" cy="160" rx="3" ry="3" fill="url(#rg)" fill-opacity="0.12"/>
<g filter="url(#b1)">
<ellipse cx="346.7" cy="140.0" rx="3.14" ry="3.14" fill="url(#rg)" fill-opacity="0.50"/>
<ellipse cx="340.3" cy="156.7" rx="3.62" ry="3.62" fill="url(#rg)" fill-opacity="0.50"/>
<ellipse cx="349.7" cy="155.5" rx="2.90" ry="2.90" fill="url(#rg)" fill-opacity="0.50"/>
<ellipse cx="377.0" cy="130.0" rx="2.25" ry="2.25" fill="url(#rgd)" fill-opacity="0.40"/>
<ellipse cx="364.2" cy="176.3" rx="2.70" ry="2.70" fill="url(#rgd)" fill-opacity="0.34"/>
<ellipse cx="385.3" cy="160.8" rx="2.25" ry="2.25" fill="url(#rgd)" fill-opacity="0.29"/>
<ellipse cx="360.0" cy="130.0" rx="2.70" ry="2.70" fill="url(#rgd)" fill-opacity="0.14"/>
<ellipse cx="360.8" cy="158.7" rx="2.25" ry="2.25" fill="url(#rgd)" fill-opacity="0.23"/>
<ellipse cx="373.3" cy="119.2" rx="1.80" ry="1.80" fill="url(#rgd)" fill-opacity="0.34"/>
<ellipse cx="369.2" cy="120.8" rx="1.58" ry="1.58" fill="url(#rgd)" fill-opacity="0.34"/>
<ellipse cx="338.3" cy="149.2" rx="2.25" ry="2.25" fill="url(#rgd)" fill-opacity="0.17"/>
<ellipse cx="367.5" cy="149.2" rx="1.80" ry="1.80" fill="url(#rgd)" fill-opacity="0.14"/>
<ellipse cx="332.5" cy="153.3" rx="2.25" ry="2.25" fill="url(#rgd)" fill-opacity="0.23"/>
<ellipse cx="330.0" cy="163.3" rx="2.70" ry="2.70" fill="url(#rgd)" fill-opacity="0.17"/>
<ellipse cx="377.0" cy="121.7" rx="3.50" ry="3.50" fill="url(#rgd)" fill-opacity="0.88"/>
<ellipse cx="392.0" cy="126.7" rx="3.50" ry="3.50" fill="url(#rgd)" fill-opacity="0.88"/>
<ellipse cx="393.0" cy="133.0" rx="3.03" ry="3.03" fill="url(#rgd)" fill-opacity="0.88"/>
<ellipse cx="346.7" cy="140.0" rx="2.17" ry="2.17" fill="#fff" fill-opacity="1.00"/>
<ellipse cx="340.3" cy="156.7" rx="2.50" ry="2.50" fill="#fff" fill-opacity="1.00"/>
<ellipse cx="349.7" cy="155.5" rx="2.00" ry="2.00" fill="#fff" fill-opacity="1.00"/>
</g>
</g>
<rect x="327.0" y="171.6" width="25.5" height="12.0" fill="#fff"/>
<text x="339.1" y="179.8" font-size="6.3" font-weight="bold" text-anchor="middle" stroke="#000" stroke-width="0.3">65 %</text>
<text x="363.0" y="114.0" font-size="6.4" font-weight="bold" text-anchor="middle" stroke="#000" stroke-width="0.3" textLength="66.0" lengthAdjust="spacingAndGlyphs">Resveratrol +Velcade</text>
<clipPath id="cp5"><rect x="252.0" y="222.5" width="70.8" height="68.8"/></clipPath>
<rect x="252.0" y="222.5" width="70.8" height="68.8" fill="#000"/>
<g clip-path="url(#cp5)">

<g filter="url(#b1)">
<ellipse cx="287.9" cy="241.4" rx="4.11" ry="4.11" fill="url(#rg)" fill-opacity="0.50"/>
<ellipse cx="266.0" cy="260.5" rx="3.14" ry="3.14" fill="url(#rg)" fill-opacity="0.50"/>
<ellipse cx="287.9" cy="258.0" rx="4.11" ry="4.11" fill="url(#rg)" fill-opacity="0.50"/>
<ellipse cx="301.9" cy="250.5" rx="3.38" ry="3.38" fill="url(#rg)" fill-opacity="0.50"/>
<ellipse cx="269.0" cy="246.4" rx="3.38" ry="3.38" fill="url(#rg)" fill-opacity="0.60"/>
<ellipse cx="259.0" cy="243.9" rx="2.92" ry="2.92" fill="url(#rg)" fill-opacity="0.45"/>
<ellipse cx="254.0" cy="229.7" rx="2.70" ry="2.70" fill="url(#rg)" fill-opacity="0.60"/>
<ellipse cx="314.9" cy="235.5" rx="2.25" ry="2.25" fill="url(#rg)" fill-opacity="0.60"/>
<ellipse cx="309.0" cy="237.2" rx="2.70" ry="2.70" fill="url(#rg)" fill-opacity="0.38"/>
<ellipse cx="306.5" cy="250.5" rx="2.70" ry="2.70" fill="url(#rg)" fill-opacity="0.52"/>
<ellipse cx="279.9" cy="278.9" rx="2.70" ry="2.70" fill="url(#rg)" fill-opacity="0.38"/>
<ellipse cx="303.2" cy="283.9" rx="3.15" ry="3.15" fill="url(#rg)" fill-opacity="0.18"/>
<ellipse cx="289.9" cy="268.9" rx="3.60" ry="3.60" fill="url(#rg)" fill-opacity="0.18"/>
<ellipse cx="309.0" cy="265.5" rx="3.15" ry="3.15" fill="url(#rg)" fill-opacity="0.33"/>
<ellipse cx="319.0" cy="228.9" rx="2.25" ry="2.25" fill="url(#rg)" fill-opacity="0.45"/>
<ellipse cx="300.7" cy="262.2" rx="3.15" ry="3.15" fill="url(#rg)" fill-opacity="0.30"/>
<ellipse cx="284.0" cy="252.2" rx="2.25" ry="2.25" fill="url(#rg)" fill-opacity="0.22"/>
<ellipse cx="262.4" cy="248.0" rx="2.25" ry="2.25" fill="url(#rg)" fill-opacity="0.22"/>
<ellipse cx="318.2" cy="252.2" rx="2.70" ry="2.70" fill="url(#rg)" fill-opacity="0.15"/>
<ellipse cx="277.4" cy="232.2" rx="2.70" ry="2.70" fill="url(#rg)" fill-opacity="0.12"/>
<ellipse cx="297.4" cy="277.2" rx="3.15" ry="3.15" fill="url(#rg)" fill-opacity="0.12"/>
<ellipse cx="300.7" cy="256.4" rx="3.97" ry="3.97" fill="url(#rg)" fill-opacity="0.91"/>
<ellipse cx="307.4" cy="259.7" rx="3.73" ry="3.73" fill="url(#rg)" fill-opacity="0.91"/>
<ellipse cx="295.7" cy="242.7" rx="3.03" ry="3.03" fill="url(#rg)" fill-opacity="0.78"/>
<ellipse cx="260.7" cy="233.9" rx="4.20" ry="4.20" fill="url(#rg)" fill-opacity="0.72"/>
<ellipse cx="267.0" cy="230.2" rx="3.27" ry="3.27" fill="url(#rg)" fill-opacity="0.78"/>
<ellipse cx="307.4" cy="229.7" rx="4.20" ry="4.20" fill="url(#rg)" fill-opacity="0.72"/>
<ellipse cx="313.7" cy="228.4" rx="3.27" ry="3.27" fill="url(#rg)" fill-opacity="0.78"/>
<ellipse cx="295.7" cy="248.0" rx="2.80" ry="2.80" fill="url(#rg)" fill-opacity="0.65"/>
<ellipse cx="287.9" cy="241.4" rx="2.83" ry="2.83" fill="#fff" fill-opacity="1.00"/>
<ellipse cx="266.0" cy="260.5" rx="2.17" ry="2.17" fill="#fff" fill-opacity="1.00"/>
<ellipse cx="287.9" cy="258.0" rx="2.83" ry="2.83" fill="#fff" fill-opacity="1.00"/>
<ellipse cx="301.9" cy="250.5" rx="2.33" ry="2.33" fill="#fff" fill-opacity="1.00"/>
</g>
<rect x="252.0" y="223.1" width="70.8" height="1.0" fill="#808080"/>
</g>
<rect x="253.3" y="277.8" width="21.7" height="12.2" fill="#fff"/>
<text x="263.5" y="286.1" font-size="6.3" font-weight="bold" text-anchor="middle" stroke="#000" stroke-width="0.3">2 %</text>
<text x="284.5" y="220.6" font-size="6.4" font-weight="bold" text-anchor="middle" stroke="#000" stroke-width="0.3">Control</text>
<clipPath id="cp6"><rect x="327.0" y="222.5" width="71.3" height="69.2"/></clipPath>
<rect x="327.0" y="222.5" width="71.3" height="69.2" fill="#000"/>
<g clip-path="url(#cp6)">

<g filter="url(#b1)">
<ellipse cx="339.8" cy="234.3" rx="3.14" ry="3.14" fill="url(#rg)" fill-opacity="0.50"/>
<ellipse cx="371.5" cy="241.0" rx="3.14" ry="3.14" fill="url(#rg)" fill-opacity="0.50"/>
<ellipse cx="368.0" cy="245.6" rx="3.14" ry="3.14" fill="url(#rg)" fill-opacity="0.50"/>
<ellipse cx="343.5" cy="247.6" rx="6.08" ry="6.08" fill="url(#rg)" fill-opacity="0.45"/>
<ellipse cx="332.6" cy="251.0" rx="3.83" ry="3.83" fill="url(#rg)" fill-opacity="0.45"/>
<ellipse cx="361.5" cy="256.5" rx="3.14" ry="3.14" fill="url(#rg)" fill-opacity="0.50"/>
<ellipse cx="357.1" cy="261.5" rx="3.14" ry="3.14" fill="url(#rg)" fill-opacity="0.50"/>
<ellipse cx="361.0" cy="265.1" rx="3.14" ry="3.14" fill="url(#rg)" fill-opacity="0.50"/>
<ellipse cx="358.8" cy="270.1" rx="3.38" ry="3.38" fill="url(#rg)" fill-opacity="0.50"/>
<ellipse cx="386.0" cy="261.0" rx="3.14" ry="3.14" fill="url(#rg)" fill-opacity="0.50"/>
<ellipse cx="385.1" cy="278.5" rx="3.15" ry="3.15" fill="url(#rg)" fill-opacity="0.52"/>
<ellipse cx="390.1" cy="284.3" rx="2.70" ry="2.70" fill="url(#rg)" fill-opacity="0.52"/>
<ellipse cx="373.8" cy="271.0" rx="2.70" ry="2.70" fill="url(#rg)" fill-opacity="0.30"/>
<ellipse cx="388.5" cy="251.8" rx="2.25" ry="2.25" fill="url(#rg)" fill-opacity="0.30"/>
<ellipse cx="328.8" cy="246.0" rx="2.25" ry="2.25" fill="url(#rg)" fill-opacity="0.45"/>
<ellipse cx="387.6" cy="265.1" rx="2.25" ry="2.25" fill="url(#rg)" fill-opacity="0.45"/>
<ellipse cx="379.3" cy="228.5" rx="3.15" ry="3.15" fill="url(#rg)" fill-opacity="0.12"/>
<ellipse cx="390.1" cy="242.6" rx="2.25" ry="2.25" fill="url(#rg)" fill-opacity="0.15"/>
<ellipse cx="343.5" cy="240.1" rx="2.25" ry="2.25" fill="url(#rg)" fill-opacity="0.18"/>
<ellipse cx="362.3" cy="226.0" rx="3.97" ry="3.97" fill="url(#rg)" fill-opacity="1.00"/>
<ellipse cx="390.1" cy="270.1" rx="3.03" ry="3.03" fill="url(#rg)" fill-opacity="0.78"/>
<ellipse cx="376.8" cy="250.5" rx="2.80" ry="2.80" fill="url(#rg)" fill-opacity="0.65"/>
<ellipse cx="362.6" cy="260.1" rx="2.33" ry="2.33" fill="url(#rg)" fill-opacity="0.65"/>
<ellipse cx="339.8" cy="234.3" rx="2.17" ry="2.17" fill="#fff" fill-opacity="1.00"/>
<ellipse cx="371.5" cy="241.0" rx="2.17" ry="2.17" fill="#fff" fill-opacity="1.00"/>
<ellipse cx="368.0" cy="245.6" rx="2.17" ry="2.17" fill="#fff" fill-opacity="1.00"/>
<ellipse cx="361.5" cy="256.5" rx="2.17" ry="2.17" fill="#fff" fill-opacity="1.00"/>
<ellipse cx="357.1" cy="261.5" rx="2.17" ry="2.17" fill="#fff" fill-opacity="1.00"/>
<ellipse cx="361.0" cy="265.1" rx="2.17" ry="2.17" fill="#fff" fill-opacity="1.00"/>
<ellipse cx="358.8" cy="270.1" rx="2.33" ry="2.33" fill="#fff" fill-opacity="1.00"/>
<ellipse cx="386.0" cy="261.0" rx="2.17" ry="2.17" fill="#fff" fill-opacity="1.00"/>
</g>
<rect x="327.0" y="223.1" width="71.3" height="1.0" fill="#808080"/>
</g>
<rect x="328.7" y="278.3" width="23.8" height="12.3" fill="#fff"/>
<text x="340.0" y="286.6" font-size="6.3" font-weight="bold" text-anchor="middle" stroke="#000" stroke-width="0.3">12 %</text>
<text x="360.0" y="220.6" font-size="6.4" font-weight="bold" text-anchor="middle" stroke="#000" stroke-width="0.3">Resveratrol</text>
<clipPath id="cp7"><rect x="252.0" y="313.3" width="70.8" height="68.0"/></clipPath>
<rect x="252.0" y="313.3" width="70.8" height="68.0" fill="#000"/>
<g clip-path="url(#cp7)">

<g filter="url(#b1)">
<ellipse cx="275.0" cy="332.3" rx="3.51" ry="3.51" fill="url(#rg)" fill-opacity="0.50"/>
<ellipse cx="274.8" cy="347.1" rx="3.51" ry="3.51" fill="url(#rg)" fill-opacity="0.50"/>
<ellipse cx="257.2" cy="349.2" rx="3.05" ry="3.05" fill="url(#rg)" fill-opacity="0.50"/>
<ellipse cx="286.1" cy="340.6" rx="2.81" ry="2.81" fill="url(#rg)" fill-opacity="0.50"/>
<ellipse cx="297.6" cy="315.3" rx="1.31" ry="1.31" fill="url(#rg)" fill-opacity="0.52"/>
<ellipse cx="292.1" cy="327.6" rx="2.18" ry="2.18" fill="url(#rg)" fill-opacity="0.45"/>
<ellipse cx="300.5" cy="321.4" rx="1.74" ry="1.74" fill="url(#rg)" fill-opacity="0.45"/>
<ellipse cx="313.5" cy="333.8" rx="2.18" ry="2.18" fill="url(#rg)" fill-opacity="0.45"/>
<ellipse cx="317.1" cy="332.6" rx="1.31" ry="1.31" fill="url(#rg)" fill-opacity="0.60"/>
<ellipse cx="312.3" cy="357.2" rx="2.84" ry="2.84" fill="url(#rg)" fill-opacity="0.45"/>
<ellipse cx="318.5" cy="356.4" rx="2.18" ry="2.18" fill="url(#rg)" fill-opacity="0.38"/>
<ellipse cx="292.6" cy="354.3" rx="2.62" ry="2.62" fill="url(#rg)" fill-opacity="0.45"/>
<ellipse cx="276.7" cy="356.9" rx="2.18" ry="2.18" fill="url(#rg)" fill-opacity="0.38"/>
<ellipse cx="285.8" cy="363.6" rx="2.62" ry="2.62" fill="url(#rg)" fill-opacity="0.30"/>
<ellipse cx="286.8" cy="370.1" rx="2.18" ry="2.18" fill="url(#rg)" fill-opacity="0.22"/>
<ellipse cx="298.3" cy="378.1" rx="2.18" ry="2.18" fill="url(#rg)" fill-opacity="0.45"/>
<ellipse cx="315.6" cy="374.5" rx="2.18" ry="2.18" fill="url(#rg)" fill-opacity="0.22"/>
<ellipse cx="263.3" cy="317.5" rx="1.74" ry="1.74" fill="url(#rg)" fill-opacity="0.38"/>
<ellipse cx="268.5" cy="365.5" rx="1.74" ry="1.74" fill="url(#rg)" fill-opacity="0.38"/>
<ellipse cx="261.3" cy="366.1" rx="1.74" ry="1.74" fill="url(#rg)" fill-opacity="0.30"/>
<ellipse cx="270.2" cy="342.0" rx="1.74" ry="1.74" fill="url(#rg)" fill-opacity="0.38"/>
<ellipse cx="290.4" cy="341.3" rx="2.18" ry="2.18" fill="url(#rg)" fill-opacity="0.52"/>
<ellipse cx="284.6" cy="351.4" rx="2.18" ry="2.18" fill="url(#rg)" fill-opacity="0.45"/>
<ellipse cx="273.1" cy="326.9" rx="1.74" ry="1.74" fill="url(#rg)" fill-opacity="0.18"/>
<ellipse cx="320.7" cy="325.4" rx="1.09" ry="1.09" fill="url(#rg)" fill-opacity="0.45"/>
<ellipse cx="315.6" cy="378.1" rx="1.31" ry="1.31" fill="url(#rg)" fill-opacity="0.45"/>
<ellipse cx="285.3" cy="345.6" rx="3.39" ry="3.39" fill="url(#rg)" fill-opacity="0.91"/>
<ellipse cx="290.8" cy="348.8" rx="3.17" ry="3.17" fill="url(#rg)" fill-opacity="1.00"/>
<ellipse cx="290.7" cy="322.5" rx="3.39" ry="3.39" fill="url(#rg)" fill-opacity="0.91"/>
<ellipse cx="295.9" cy="320.8" rx="2.49" ry="2.49" fill="url(#rg)" fill-opacity="0.98"/>
<ellipse cx="257.9" cy="322.5" rx="3.17" ry="2.49" fill="url(#rg)" fill-opacity="0.91"/>
<ellipse cx="253.6" cy="326.1" rx="1.81" ry="1.81" fill="url(#rg)" fill-opacity="0.85"/>
<ellipse cx="259.8" cy="336.7" rx="2.71" ry="2.71" fill="url(#rg)" fill-opacity="0.72"/>
<ellipse cx="281.0" cy="333.4" rx="2.26" ry="2.26" fill="url(#rg)" fill-opacity="0.78"/>
<ellipse cx="281.0" cy="339.1" rx="1.58" ry="1.58" fill="url(#rg)" fill-opacity="0.78"/>
<ellipse cx="284.6" cy="315.3" rx="2.26" ry="2.26" fill="url(#rg)" fill-opacity="0.72"/>
<ellipse cx="280.3" cy="317.1" rx="1.81" ry="1.81" fill="url(#rg)" fill-opacity="0.65"/>
<ellipse cx="303.1" cy="315.0" rx="2.49" ry="2.49" fill="url(#rg)" fill-opacity="0.91"/>
<ellipse cx="296.4" cy="327.2" rx="1.81" ry="1.81" fill="url(#rg)" fill-opacity="0.72"/>
<ellipse cx="319.2" cy="334.8" rx="1.81" ry="1.81" fill="url(#rg)" fill-opacity="0.65"/>
<ellipse cx="275.0" cy="332.3" rx="2.42" ry="2.42" fill="#fff" fill-opacity="1.00"/>
<ellipse cx="274.8" cy="347.1" rx="2.42" ry="2.42" fill="#fff" fill-opacity="1.00"/>
<ellipse cx="257.2" cy="349.2" rx="2.10" ry="2.10" fill="#fff" fill-opacity="1.00"/>
<ellipse cx="286.1" cy="340.6" rx="1.94" ry="1.94" fill="#fff" fill-opacity="1.00"/>
</g>
</g>
<rect x="253.3" y="368.3" width="24.2" height="11.7" fill="#fff"/>
<text x="264.8" y="376.4" font-size="6.3" font-weight="bold" text-anchor="middle" stroke="#000" stroke-width="0.3">15 %</text>
<text x="288.7" y="310.2" font-size="6.4" font-weight="bold" text-anchor="middle" stroke="#000" stroke-width="0.3">Thalidomide</text>
<clipPath id="cp8"><rect x="327.0" y="313.2" width="70.1" height="67.8"/></clipPath>
<rect x="327.0" y="313.2" width="70.1" height="67.8" fill="#060606"/>
<g clip-path="url(#cp8)">

<g filter="url(#b1)">
<ellipse cx="394.2" cy="321.1" rx="1.79" ry="2.91" fill="url(#rg)" fill-opacity="0.60"/>
<ellipse cx="391.6" cy="332.3" rx="3.13" ry="3.13" fill="url(#rg)" fill-opacity="0.50"/>
<ellipse cx="382.7" cy="334.1" rx="1.92" ry="1.92" fill="url(#rg)" fill-opacity="0.50"/>
<ellipse cx="386.7" cy="334.1" rx="1.68" ry="1.68" fill="url(#rg)" fill-opacity="0.50"/>
<ellipse cx="339.4" cy="337.7" rx="2.65" ry="3.61" fill="url(#rg)" fill-opacity="0.50"/>
<ellipse cx="337.3" cy="333.4" rx="1.79" ry="1.79" fill="url(#rg)" fill-opacity="0.60"/>
<ellipse cx="372.3" cy="343.0" rx="2.65" ry="2.65" fill="url(#rg)" fill-opacity="0.50"/>
<ellipse cx="381.0" cy="346.3" rx="2.41" ry="3.85" fill="url(#rg)" fill-opacity="0.50"/>
<ellipse cx="365.7" cy="359.3" rx="2.89" ry="4.33" fill="url(#rg)" fill-opacity="0.50"/>
<ellipse cx="331.5" cy="355.0" rx="2.24" ry="2.24" fill="url(#rg)" fill-opacity="0.45"/>
<ellipse cx="364.7" cy="366.5" rx="2.69" ry="2.69" fill="url(#rg)" fill-opacity="0.45"/>
<ellipse cx="376.2" cy="363.6" rx="2.69" ry="2.69" fill="url(#rg)" fill-opacity="0.45"/>
<ellipse cx="391.6" cy="358.6" rx="1.79" ry="1.79" fill="url(#rg)" fill-opacity="0.52"/>
<ellipse cx="342.3" cy="366.5" rx="1.34" ry="1.34" fill="url(#rg)" fill-opacity="0.45"/>
<ellipse cx="348.1" cy="329.8" rx="1.79" ry="1.79" fill="url(#rg)" fill-opacity="0.38"/>
<ellipse cx="372.6" cy="324.7" rx="1.79" ry="1.79" fill="url(#rg)" fill-opacity="0.45"/>
<ellipse cx="346.6" cy="344.9" rx="1.79" ry="1.79" fill="url(#rg)" fill-opacity="0.38"/>
<ellipse cx="349.5" cy="345.6" rx="1.34" ry="1.34" fill="url(#rg)" fill-opacity="0.45"/>
<ellipse cx="368.3" cy="378.8" rx="1.34" ry="1.34" fill="url(#rg)" fill-opacity="0.45"/>
<ellipse cx="343.8" cy="330.5" rx="1.79" ry="1.79" fill="url(#rg)" fill-opacity="0.30"/>
<ellipse cx="335.1" cy="317.5" rx="3.72" ry="3.72" fill="url(#rg)" fill-opacity="1.00"/>
<ellipse cx="338.7" cy="315.3" rx="1.86" ry="1.86" fill="url(#rg)" fill-opacity="0.78"/>
<ellipse cx="356.4" cy="318.2" rx="2.79" ry="2.79" fill="url(#rg)" fill-opacity="1.00"/>
<ellipse cx="358.5" cy="315.3" rx="1.86" ry="1.86" fill="url(#rg)" fill-opacity="0.78"/>
<ellipse cx="365.4" cy="318.2" rx="3.25" ry="3.25" fill="url(#rg)" fill-opacity="1.00"/>
<ellipse cx="368.0" cy="325.4" rx="3.25" ry="3.25" fill="url(#rg)" fill-opacity="1.00"/>
<ellipse cx="381.5" cy="324.7" rx="2.55" ry="3.48" fill="url(#rg)" fill-opacity="1.00"/>
<ellipse cx="384.1" cy="337.7" rx="2.09" ry="2.09" fill="url(#rg)" fill-opacity="0.91"/>
<ellipse cx="351.0" cy="341.3" rx="3.02" ry="3.02" fill="url(#rg)" fill-opacity="0.98"/>
<ellipse cx="351.7" cy="349.9" rx="3.25" ry="3.25" fill="url(#rg)" fill-opacity="0.91"/>
<ellipse cx="338.7" cy="363.6" rx="2.79" ry="2.79" fill="url(#rg)" fill-opacity="0.91"/>
<ellipse cx="370.4" cy="373.0" rx="2.79" ry="2.79" fill="url(#rg)" fill-opacity="0.85"/>
<ellipse cx="357.9" cy="378.1" rx="1.86" ry="1.86" fill="url(#rg)" fill-opacity="0.65"/>
<ellipse cx="391.6" cy="332.3" rx="2.16" ry="2.16" fill="#fff" fill-opacity="1.00"/>
<ellipse cx="382.7" cy="334.1" rx="1.33" ry="1.33" fill="#fff" fill-opacity="0.99"/>
<ellipse cx="386.7" cy="334.1" rx="1.16" ry="1.16" fill="#fff" fill-opacity="0.99"/>
<ellipse cx="339.4" cy="337.7" rx="1.82" ry="2.49" fill="#fff" fill-opacity="1.00"/>
<ellipse cx="372.3" cy="343.0" rx="1.82" ry="1.82" fill="#fff" fill-opacity="1.00"/>
<ellipse cx="381.0" cy="346.3" rx="1.66" ry="2.65" fill="#fff" fill-opacity="0.99"/>
<ellipse cx="365.7" cy="359.3" rx="1.99" ry="2.99" fill="#fff" fill-opacity="1.00"/>
</g>
</g>
<rect x="328.7" y="368.6" width="24.3" height="11.7" fill="#fff"/>
<text x="340.2" y="376.6" font-size="6.3" font-weight="bold" text-anchor="middle" stroke="#000" stroke-width="0.3">55 %</text>
<text x="368.0" y="311.0" font-size="6.4" font-weight="bold" text-anchor="middle" stroke="#000" stroke-width="0.3" textLength="78.0" lengthAdjust="spacingAndGlyphs">Resveratrol +Thalidomide</text>
</g>
<g filter="url(#soft)">
<rect x="271.5" y="415.7" width="73.3" height="77.2" fill="#fff" stroke="#777" stroke-width="0.9"/>
<line x1="271.0" y1="492.9" x2="345.2" y2="492.9" stroke="#4a4a4a" stroke-width="1.1"/>
<text x="265.9" y="493.1" font-size="5.4" font-weight="bold" text-anchor="middle" stroke="#000" stroke-width="0.30">0</text>
<text x="265.9" y="474.5" font-size="5.4" font-weight="bold" text-anchor="middle" stroke="#000" stroke-width="0.30">20</text>
<text x="265.9" y="455.9" font-size="5.4" font-weight="bold" text-anchor="middle" stroke="#000" stroke-width="0.30">40</text>
<text x="265.9" y="437.3" font-size="5.4" font-weight="bold" text-anchor="middle" stroke="#000" stroke-width="0.30">60</text>
<text x="265.9" y="418.6" font-size="5.4" font-weight="bold" text-anchor="middle" stroke="#000" stroke-width="0.30">80</text>
<rect x="276.6" y="483.4" width="8.3" height="9.5" fill="#000"/>
<rect x="295.0" y="478.0" width="8.2" height="14.9" fill="#000"/>
<rect x="313.1" y="473.2" width="8.5" height="19.7" fill="#000"/>
<rect x="331.3" y="434.9" width="8.6" height="58.0" fill="#000"/>
<line x1="335.5" y1="432.5" x2="335.5" y2="434.9" stroke="#000" stroke-width="0.8"/>
<line x1="333.1" y1="432.5" x2="337.9" y2="432.5" stroke="#000" stroke-width="0.8"/>
<line x1="280.7" y1="483.0" x2="280.7" y2="483.4" stroke="#000" stroke-width="0.8"/>
<line x1="279.2" y1="483.0" x2="282.2" y2="483.0" stroke="#000" stroke-width="0.8"/>
<line x1="299.1" y1="477.6" x2="299.1" y2="478.0" stroke="#000" stroke-width="0.8"/>
<line x1="297.6" y1="477.6" x2="300.6" y2="477.6" stroke="#000" stroke-width="0.8"/>
<line x1="317.3" y1="472.8" x2="317.3" y2="473.2" stroke="#000" stroke-width="0.8"/>
<line x1="315.8" y1="472.8" x2="318.8" y2="472.8" stroke="#000" stroke-width="0.8"/>
<text x="335.3" y="429.9" font-size="6" font-weight="bold" text-anchor="middle" stroke="#000" stroke-width="0.33">*</text>
<text x="275.4" y="426.1" font-size="6.1" font-weight="bold" text-anchor="start" stroke="#000" stroke-width="0.34" textLength="33.8" lengthAdjust="spacingAndGlyphs">ANNEXIN V</text>
<text x="255.9" y="448.0" font-size="6.4" font-weight="bold" text-anchor="middle" stroke="#000" stroke-width="0.35" textLength="40.6" lengthAdjust="spacingAndGlyphs" transform="rotate(-90 255.9 448.0)">Apoptosis  %</text>
<line x1="279.7" y1="498.6" x2="281.9" y2="498.6" stroke="#000" stroke-width="1"/>
<line x1="298.4" y1="498.0" x2="301.8" y2="498.0" stroke="#000" stroke-width="1.2"/>
<line x1="300.1" y1="496.3" x2="300.1" y2="499.7" stroke="#000" stroke-width="1.2"/>
<line x1="317.7" y1="498.6" x2="319.9" y2="498.6" stroke="#000" stroke-width="1"/>
<line x1="334.4" y1="498.0" x2="337.8" y2="498.0" stroke="#000" stroke-width="1.2"/>
<line x1="336.1" y1="496.3" x2="336.1" y2="499.7" stroke="#000" stroke-width="1.2"/>
<text x="347.7" y="500.3" font-size="6.0" font-weight="bold" text-anchor="start" stroke="#000" stroke-width="0.33" textLength="33.6" lengthAdjust="spacingAndGlyphs">Resveratrol</text>
<line x1="279.7" y1="506.3" x2="281.9" y2="506.3" stroke="#000" stroke-width="1"/>
<line x1="298.1" y1="506.3" x2="300.3" y2="506.3" stroke="#000" stroke-width="1"/>
<line x1="316.7" y1="505.7" x2="320.1" y2="505.7" stroke="#000" stroke-width="1.2"/>
<line x1="318.4" y1="504.0" x2="318.4" y2="507.4" stroke="#000" stroke-width="1.2"/>
<line x1="334.4" y1="505.7" x2="337.8" y2="505.7" stroke="#000" stroke-width="1.2"/>
<line x1="336.1" y1="504.0" x2="336.1" y2="507.4" stroke="#000" stroke-width="1.2"/>
<text x="347.7" y="508.0" font-size="6.0" font-weight="bold" text-anchor="start" stroke="#000" stroke-width="0.33" textLength="23.3" lengthAdjust="spacingAndGlyphs">Velcade</text>
<rect x="406.4" y="416.6" width="70.0" height="74.5" fill="#fff" stroke="#777" stroke-width="0.9"/>
<line x1="405.9" y1="491.1" x2="476.8" y2="491.1" stroke="#4a4a4a" stroke-width="1.1"/>
<text x="400.5" y="492.8" font-size="5.4" font-weight="bold" text-anchor="middle" stroke="#000" stroke-width="0.30">0</text>
<text x="400.5" y="474.2" font-size="5.4" font-weight="bold" text-anchor="middle" stroke="#000" stroke-width="0.30">20</text>
<text x="400.5" y="455.6" font-size="5.4" font-weight="bold" text-anchor="middle" stroke="#000" stroke-width="0.30">40</text>
<text x="400.5" y="437.1" font-size="5.4" font-weight="bold" text-anchor="middle" stroke="#000" stroke-width="0.30">60</text>
<text x="400.5" y="418.4" font-size="5.4" font-weight="bold" text-anchor="middle" stroke="#000" stroke-width="0.30">80</text>
<rect x="411.1" y="481.6" width="8.2" height="9.5" fill="#000"/>
<rect x="428.7" y="476.5" width="7.9" height="14.6" fill="#000"/>
<rect x="446.4" y="475.8" width="7.8" height="15.3" fill="#000"/>
<rect x="463.6" y="435.0" width="7.8" height="56.1" fill="#000"/>
<line x1="467.5" y1="432.9" x2="467.5" y2="435.0" stroke="#000" stroke-width="0.8"/>
<line x1="465.2" y1="432.9" x2="469.8" y2="432.9" stroke="#000" stroke-width="0.8"/>
<line x1="415.5" y1="481.3" x2="415.5" y2="481.7" stroke="#000" stroke-width="0.8"/>
<line x1="414.0" y1="481.3" x2="417.0" y2="481.3" stroke="#000" stroke-width="0.8"/>
<line x1="432.5" y1="476.2" x2="432.5" y2="476.6" stroke="#000" stroke-width="0.8"/>
<line x1="431.0" y1="476.2" x2="434.0" y2="476.2" stroke="#000" stroke-width="0.8"/>
<line x1="450.0" y1="475.4" x2="450.0" y2="475.8" stroke="#000" stroke-width="0.8"/>
<line x1="448.5" y1="475.4" x2="451.5" y2="475.4" stroke="#000" stroke-width="0.8"/>
<text x="467.2" y="431.2" font-size="6" font-weight="bold" text-anchor="middle" stroke="#000" stroke-width="0.33">*</text>
<text x="409.7" y="426.7" font-size="6.1" font-weight="bold" text-anchor="start" stroke="#000" stroke-width="0.34" textLength="34.6" lengthAdjust="spacingAndGlyphs">ANNEXIN V</text>
<text x="392.3" y="452.1" font-size="6.4" font-weight="bold" text-anchor="middle" stroke="#000" stroke-width="0.35" textLength="40.4" lengthAdjust="spacingAndGlyphs" transform="rotate(-90 392.3 452.1)">Apoptosis  %</text>
<line x1="415.1" y1="498.6" x2="417.3" y2="498.6" stroke="#000" stroke-width="1"/>
<line x1="431.1" y1="498.0" x2="434.5" y2="498.0" stroke="#000" stroke-width="1.2"/>
<line x1="432.8" y1="496.3" x2="432.8" y2="499.7" stroke="#000" stroke-width="1.2"/>
<line x1="449.4" y1="498.6" x2="451.6" y2="498.6" stroke="#000" stroke-width="1"/>
<line x1="468.4" y1="498.0" x2="471.8" y2="498.0" stroke="#000" stroke-width="1.2"/>
<line x1="470.1" y1="496.3" x2="470.1" y2="499.7" stroke="#000" stroke-width="1.2"/>
<text x="481.0" y="500.3" font-size="6.0" font-weight="bold" text-anchor="start" stroke="#000" stroke-width="0.33" textLength="34.8" lengthAdjust="spacingAndGlyphs">Resveratrol</text>
<line x1="415.1" y1="506.3" x2="417.3" y2="506.3" stroke="#000" stroke-width="1"/>
<line x1="433.1" y1="506.3" x2="435.3" y2="506.3" stroke="#000" stroke-width="1"/>
<line x1="450.1" y1="505.7" x2="453.5" y2="505.7" stroke="#000" stroke-width="1.2"/>
<line x1="451.8" y1="504.0" x2="451.8" y2="507.4" stroke="#000" stroke-width="1.2"/>
<line x1="468.4" y1="505.7" x2="471.8" y2="505.7" stroke="#000" stroke-width="1.2"/>
<line x1="470.1" y1="504.0" x2="470.1" y2="507.4" stroke="#000" stroke-width="1.2"/>
<text x="481.0" y="508.0" font-size="6.0" font-weight="bold" text-anchor="start" stroke="#000" stroke-width="0.33" textLength="36.4" lengthAdjust="spacingAndGlyphs">Thalidomide</text>
</g>
</svg></body></html>
